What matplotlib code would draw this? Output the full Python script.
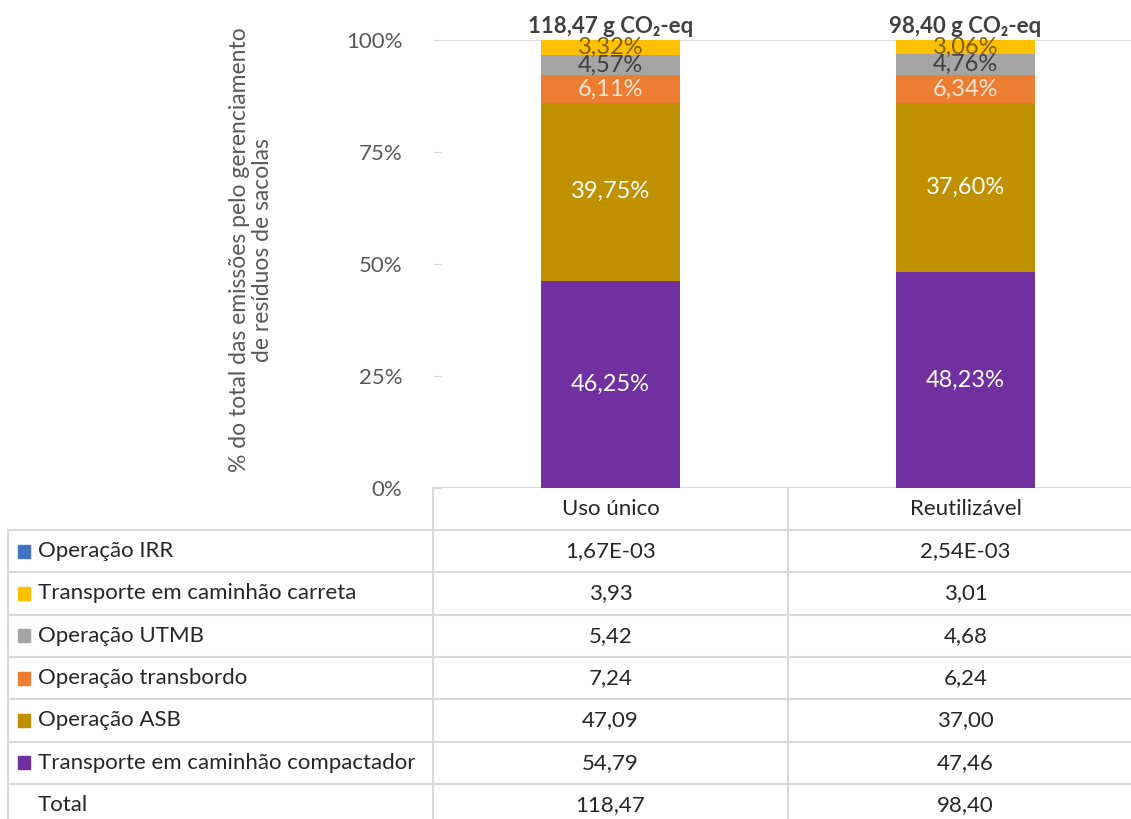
import matplotlib
matplotlib.use("Agg")
import matplotlib.pyplot as plt
from matplotlib.patches import Rectangle

plt.rcParams['font.family'] = ['Lato', 'DejaVu Sans']

# ---------------- data ----------------
categories = ["Uso único", "Reutilizável"]
series_names = ["Operação IRR", "Transporte em caminhão carreta", "Operação UTMB",
                "Operação transbordo", "Operação ASB", "Transporte em caminhão compactador"]
irr = [1.67e-3, 2.54e-3]
carreta = [3.93, 3.01]
utmb = [5.42, 4.68]
transbordo = [7.24, 6.24]
asb = [47.09, 37.00]
compactador = [54.79, 47.46]
totals = [118.47, 98.40]

# percentage shares
pct_irr = [0.0014, 0.0026]
pct_carreta = [3.32, 3.06]
pct_utmb = [4.57, 4.76]
pct_transbordo = [6.11, 6.34]
pct_asb = [39.75, 37.60]
pct_compactador = [46.25, 48.23]

colors = {"Operação IRR": "#4472C4",
          "Transporte em caminhão carreta": "#FFC000",
          "Operação UTMB": "#A5A5A5",
          "Operação transbordo": "#ED7D31",
          "Operação ASB": "#BF9000",
          "Transporte em caminhão compactador": "#7030A0"}
label_colors = {"Operação IRR": None,
                "Transporte em caminhão carreta": "#7F6000",
                "Operação UTMB": "#404040",
                "Operação transbordo": "#FBE5D6",
                "Operação ASB": "#FFFFFF",
                "Transporte em caminhão compactador": "#FFFFFF"}

W, H = 1131, 819
fig = plt.figure(figsize=(W / 100, H / 100), dpi=100)


def px(x0, y0, x1, y1):
    return [x0 / W, 1 - y1 / H, (x1 - x0) / W, (y1 - y0) / H]


ax = fig.add_axes(px(433, 40, 1143, 488))
xpos = list(range(len(categories)))
stack_order = [("Transporte em caminhão compactador", pct_compactador),
               ("Operação ASB", pct_asb),
               ("Operação transbordo", pct_transbordo),
               ("Operação UTMB", pct_utmb),
               ("Transporte em caminhão carreta", pct_carreta),
               ("Operação IRR", pct_irr)]
bottom = [0.0] * len(categories)
for name, vals in stack_order:
    ax.bar(xpos, vals, bottom=bottom, width=0.394, color=colors[name], zorder=3)
    lc = label_colors[name]
    if lc is not None:
        for i, v in enumerate(vals):
            ax.text(xpos[i], bottom[i] + v / 2, f"{v:.2f}%".replace('.', ','),
                    ha='center', va='center', color=lc, fontsize=17, zorder=4)
    bottom = [b + v for b, v in zip(bottom, vals)]

for i, t in enumerate(totals):
    ax.annotate(f"{t:.2f}".replace('.', ',') + " g CO₂-eq", (xpos[i], 100),
                xytext=(0, 2), textcoords='offset points', ha='center', va='bottom',
                fontsize=16, fontweight='bold', color='#404040')

ax.set_xlim(-0.5, len(categories) - 0.5)
ax.set_ylim(0, 100)
ax.set_yticks([0, 25, 50, 75, 100])
ax.set_yticklabels(["0%", "25%", "50%", "75%", "100%"])
ax.tick_params(axis='y', direction='in', length=6, color='#D9D9D9', labelcolor='#595959',
               labelsize=16, pad=22)
ax.tick_params(axis='x', bottom=False, labelbottom=False)
for s in ax.spines.values():
    s.set_visible(False)
ax.axhline(100, color='#D9D9D9', lw=1.2, zorder=1)
ax.axhline(0, color='#D9D9D9', lw=1.5, zorder=1)

fig.text(251 / W, 1 - 250 / H,
         "% do total das emissões pelo gerenciamento\nde resíduos de sacolas",
         rotation=90, ha='center', va='center', multialignment='center',
         fontsize=16.5, color='#595959', linespacing=1.15)

# ---------------- data table ----------------
tax = fig.add_axes([0, 0, 1, 1])
tax.set_xlim(0, W)
tax.set_ylim(H, 0)
tax.axis('off')
tax.patch.set_alpha(0)

gc = '#D9D9D9'
col_edges = [433, 788, 1143]
row_top = 530
row_h = 42.3
row_names = series_names + ["Total"]
row_values = [irr, carreta, utmb, transbordo, asb, compactador, totals]
n_rows = len(row_names)

# vertical lines
for xe in col_edges:
    tax.plot([xe, xe], [488, H + 10], color=gc, lw=1.5)
tax.plot([8, 8], [row_top, H + 10], color=gc, lw=1.5)
# horizontal lines
for r in range(n_rows):
    y = row_top + r * row_h
    tax.plot([8, W + 10], [y, y], color=gc, lw=1.5)

# header
for i, c in enumerate(categories):
    tax.text((col_edges[i] + col_edges[i + 1]) / 2, 509, c, ha='center', va='center',
             fontsize=16, color='#262626')


def fmt(v):
    if abs(v) < 0.01:
        return f"{v:.2E}".replace('.', ',')
    return f"{v:.2f}".replace('.', ',')


for r, (name, vals) in enumerate(zip(row_names, row_values)):
    yc = row_top + (r + 0.5) * row_h
    if name in colors:
        tax.add_patch(Rectangle((18, yc - 6.5), 12, 13, color=colors[name]))
    tax.text(38, yc, name, ha='left', va='center', fontsize=16, color='#262626')
    for i, v in enumerate(vals):
        tax.text((col_edges[i] + col_edges[i + 1]) / 2, yc, fmt(v), ha='center',
                 va='center', fontsize=16, color='#262626')

fig.savefig("out.png", dpi=100)
